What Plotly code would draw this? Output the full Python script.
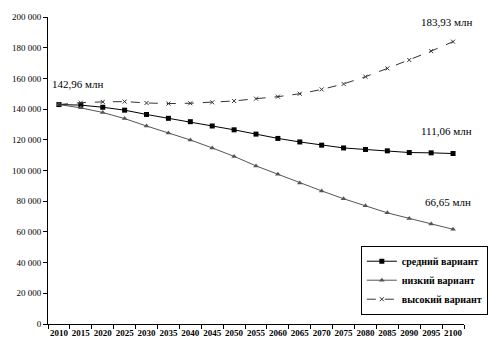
import plotly.graph_objects as go

years = [str(y) for y in range(2010, 2101, 5)]
medium = [142960, 142600, 141200, 139300, 136500, 134000, 131800, 129000, 126500, 123700,
          120900, 118600, 116500, 114700, 113700, 112800, 111700, 111500, 111060]
low = [142960, 140800, 137800, 133800, 129000, 124400, 119900, 114700, 109200, 103000,
       97500, 91900, 86700, 81600, 77100, 72400, 68800, 65200, 61700]
high = [142960, 144200, 144700, 144900, 144000, 143600, 143800, 144400, 145300, 146800,
        148100, 150000, 152800, 156400, 161100, 166500, 172000, 177800, 183930]
y_ticks = [0, 20000, 40000, 60000, 80000, 100000, 120000, 140000, 160000, 180000, 200000]
y_tick_text = ["0", "20 000", "40 000", "60 000", "80 000", "100 000", "120 000",
               "140 000", "160 000", "180 000", "200 000"]
names = ["средний вариант", "низкий вариант", "высокий вариант"]

FONT = "'Liberation Serif', 'DejaVu Serif', serif"

fig = go.Figure()
fig.add_trace(go.Scatter(x=years, y=medium, name=names[0], mode="lines+markers",
                         line=dict(color="#000000", width=1),
                         marker=dict(symbol="square", size=5, color="#000000")))
fig.add_trace(go.Scatter(x=years, y=low, name=names[1], mode="lines+markers",
                         line=dict(color="#555555", width=1),
                         marker=dict(symbol="triangle-up", size=5, color="#555555")))
fig.add_trace(go.Scatter(x=years, y=high, name=names[2], mode="lines+markers",
                         line=dict(color="#333333", width=1, dash="dash"),
                         marker=dict(symbol="x-thin-open", size=4, color="#333333",
                                     line=dict(width=1, color="#333333"))))

annots = [("142,96 млн", 0.072, 0.782), ("183,93 млн", 0.957, 0.984),
          ("111,06 млн", 0.957, 0.628), ("66,65 млн", 0.962, 0.397)]
for txt, ax, ay in annots:
    fig.add_annotation(text=txt, x=ax, y=ay, xref="paper", yref="paper",
                       showarrow=False, font=dict(family=FONT, size=11, color="#000000"),
                       xanchor="center", yanchor="middle")

fig.update_layout(
    width=500, height=352,
    margin=dict(l=43, r=14, t=12, b=28),
    paper_bgcolor="white", plot_bgcolor="white",
    font=dict(family=FONT, size=9, color="#000000"),
    showlegend=True,
    legend=dict(x=0.752, y=0.255, xanchor="left", yanchor="top",
                bgcolor="white", bordercolor="#000000", borderwidth=1,
                font=dict(family=FONT, size=10, color="#000000", weight="bold"),
                itemwidth=30, tracegroupgap=0),
    xaxis=dict(type="category", tickson="boundaries", ticks="outside", ticklen=4,
               tickcolor="#000000", showline=True, linecolor="#000000", linewidth=1,
               showgrid=False, zeroline=False, tickangle=0,
               tickfont=dict(family=FONT, size=9, color="#000000", weight="bold"),
               range=[-0.5, 18.5]),
    yaxis=dict(range=[0, 200000], tickvals=y_ticks, ticktext=y_tick_text,
               ticks="outside", ticklen=4, tickcolor="#000000",
               showline=True, linecolor="#000000", linewidth=1,
               showgrid=False, zeroline=False,
               tickfont=dict(family=FONT, size=9, color="#000000")),
)

fig.write_html("out.html")
